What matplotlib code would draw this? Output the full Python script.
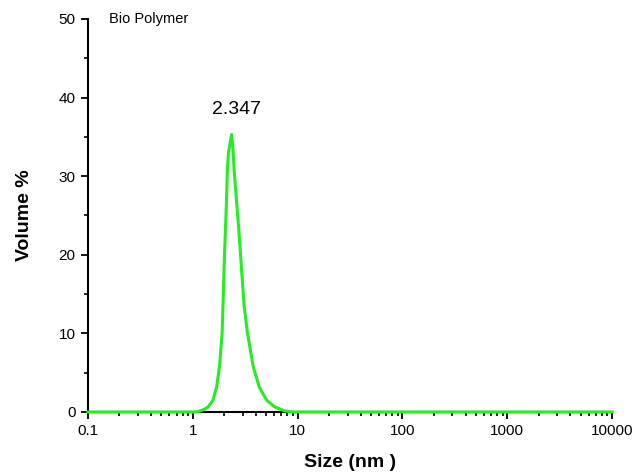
import matplotlib
matplotlib.use("Agg")
import matplotlib.pyplot as plt
from matplotlib.ticker import LogLocator, FixedLocator, NullFormatter

plt.rcParams['font.family'] = ['Liberation Sans', 'DejaVu Sans']

# size distribution (nm, volume %)
size_nm = [0.1, 1.0, 1.1, 1.17, 1.28, 1.40, 1.56, 1.69, 1.80, 1.905, 1.95, 2.0,
           2.05, 2.1, 2.14, 2.19, 2.347, 2.43, 2.48, 2.61, 2.75, 2.88, 3.09,
           3.33, 3.77, 4.30, 5.06, 6.07, 7.56, 9.0, 10000.0]
volume = [0, 0, 0.02, 0.13, 0.32, 0.64, 1.5, 3.2, 5.8, 10.0, 14.2, 19.3,
          23.2, 27.0, 30.8, 33.0, 35.3, 33.0, 30.8, 27.0, 23.2, 19.3, 13.5,
          10.0, 5.8, 3.2, 1.5, 0.64, 0.13, 0, 0]

peak_size = 2.347
peak_vol = 35.3
peak_label = "2.347"
sample_name = "Bio Polymer"
x_ticks = [0.1, 1, 10, 100, 1000, 10000]
x_tick_labels = ["0.1", "1", "10", "100", "1000", "10000"]
y_ticks = [0, 10, 20, 30, 40, 50]

fig = plt.figure(figsize=(6.37, 4.73), dpi=100)
ax = fig.add_axes([0.138, 0.129, 0.823, 0.831])

ax.plot(size_nm, volume, color='#22ee22', lw=2.2, clip_on=False, zorder=5)

ax.set_xscale('log')
ax.set_xlim(0.1, 10000)
ax.set_ylim(0, 50)

ax.set_xticks(x_ticks)
ax.set_xticklabels(x_tick_labels)
ax.xaxis.set_minor_locator(LogLocator(base=10, subs=range(2, 10), numticks=20))
ax.xaxis.set_minor_formatter(NullFormatter())
ax.set_yticks(y_ticks)
ax.yaxis.set_minor_locator(FixedLocator([5, 15, 25, 35, 45]))

for s in ['top', 'right']:
    ax.spines[s].set_visible(False)
for s in ['left', 'bottom']:
    ax.spines[s].set_linewidth(1.5)

ax.tick_params(which='major', length=5, width=1.3, labelsize=11, pad=4, direction='out')
ax.tick_params(which='minor', length=3, width=1.2, direction='out')

ax.set_xlabel("Size (nm )", fontsize=14, fontweight='bold', labelpad=11)
ax.set_ylabel("Volume %", fontsize=14, fontweight='bold', labelpad=18)

ax.text(0.158, 50, sample_name, fontsize=10.5, va='center', ha='left')
ax.annotate(peak_label, (peak_size, peak_vol), xytext=(3.5, 18),
            textcoords='offset points', ha='center', va='center', fontsize=14)

fig.savefig("out.png", dpi=100)
